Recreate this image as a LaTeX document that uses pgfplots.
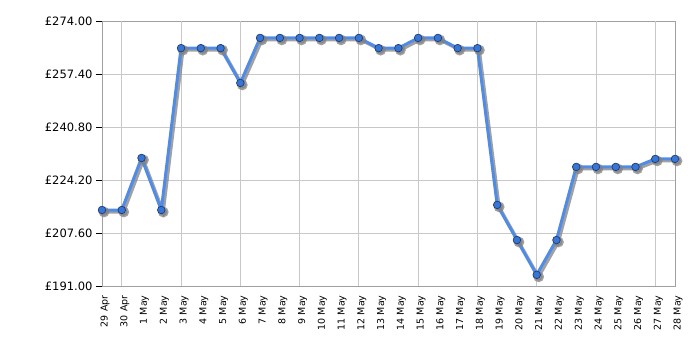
\documentclass[border=0pt]{standalone}
\usepackage{pgfplots}
\pgfplotsset{compat=1.18}
\usepackage{fontspec}
\setmainfont{DejaVu Sans}
\definecolor{lineblue}{RGB}{80,140,230}
\definecolor{markblue}{RGB}{55,118,212}
\definecolor{markedge}{RGB}{30,60,120}
\definecolor{gridgray}{RGB}{200,200,200}
\definecolor{framegray}{RGB}{160,160,160}
\definecolor{shadowgray}{RGB}{130,130,130}
\pgfplotstableread{
x y
0 214.8
1 214.8
2 231.1
3 214.8
4 265.5
5 265.5
6 265.5
7 254.6
8 268.7
9 268.7
10 268.7
11 268.7
12 268.7
13 268.7
14 265.5
15 265.5
16 268.7
17 268.7
18 265.5
19 265.5
20 216.4
21 205.4
22 194.5
23 205.4
24 228.3
25 228.3
26 228.3
27 228.3
28 230.8
29 230.8
}\prices
\begin{document}
\begin{tikzpicture}
\path (-102pt,-64pt) rectangle (598pt,286pt);
\begin{axis}[
  at={(0,0)}, anchor=south west,
  scale only axis, width=573pt, height=265pt,
  xmin=0, xmax=29, ymin=191, ymax=274,
  axis line style={framegray},
  ytick={191,207.6,224.2,240.8,257.4,274},
  yticklabel={£\pgfmathprintnumber[fixed,fixed zerofill,precision=2]{\tick}},
  yticklabel style={font=\fontsize{11.5}{12}\selectfont, text=black},
  /pgf/number format/assume math mode=true,
  ymajorgrids, major grid style={gridgray, line width=0.8pt},
  xtick={0,...,29},
  xticklabels={29 Apr,30 Apr,1 May,2 May,3 May,4 May,5 May,6 May,7 May,8 May,9 May,10 May,11 May,12 May,13 May,14 May,15 May,16 May,17 May,18 May,19 May,20 May,21 May,22 May,23 May,24 May,25 May,26 May,27 May,28 May},
  xticklabel style={rotate=90, anchor=east, font=\fontsize{9.5}{10}\selectfont, text=black},
  x tick label style={yshift=-3pt},
  xtick style={draw=none},
  extra x ticks={1,4,7,10,13,16,19,22,25,28},
  extra x tick labels={},
  extra x tick style={grid=major, tick style={draw=black, line width=0.8pt}, major tick length=5pt},
  ytick style={draw=black, line width=0.8pt},
  tick align=outside, major tick length=6pt,
  tick pos=left,
  clip=false,
]
\addplot[shadowgray, opacity=0.75, line width=3pt, xshift=2pt, yshift=-2pt,
  mark=*, mark size=3.8pt, mark options={fill=shadowgray, draw=shadowgray}] table[x=x,y=y]{\prices};
\addplot[lineblue, line width=3pt, line join=round,
  mark=*, mark size=3.8pt, mark options={fill=markblue, draw=markedge, line width=0.7pt}] table[x=x,y=y]{\prices};
\end{axis}
\end{tikzpicture}
\end{document}
